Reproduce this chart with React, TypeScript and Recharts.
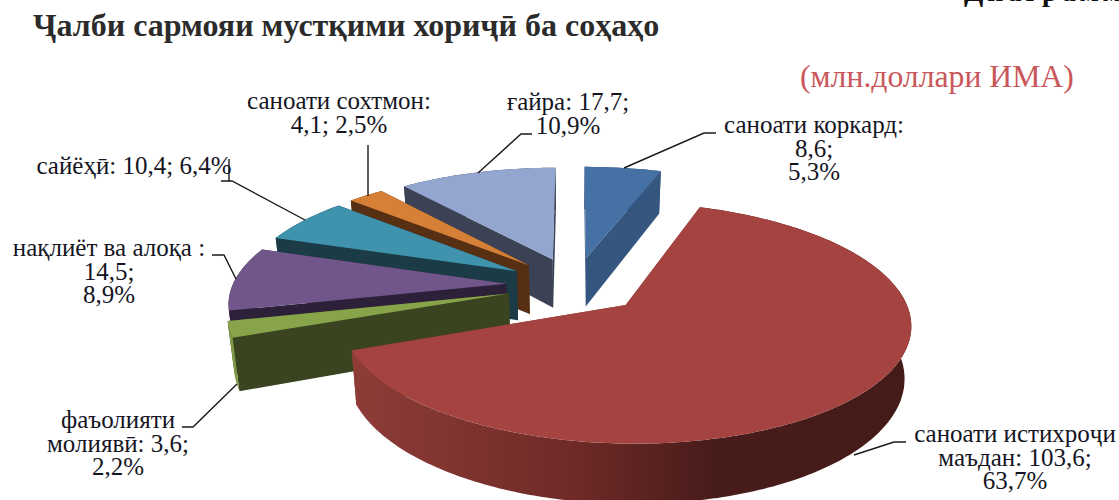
import { PieChart, Pie } from "recharts";

// listed counter-clockwise from 12 o'clock, so later slices paint over earlier ones
const categories = [
  "ғайра",
  "саноати сохтмон",
  "сайёҳӣ",
  "нақлиёт ва алоқа",
  "фаъолияти молиявӣ",
  "саноати истихроҷи маъдан",
  "саноати коркард",
];
const values = [17.7, 4.1, 10.4, 14.5, 3.6, 103.6, 8.6];
const shares = ["10,9%", "2,5%", "6,4%", "8,9%", "2,2%", "63,7%", "5,3%"];

const data = categories.map((name, i) => ({ name, value: values[i] }));

const topColors = ["#92a6cf", "#d67f37", "#3f93ad", "#71568c", "#88a44a", "#a4433f", "#4571a5"];
const wallColors = ["#3b4256", "#573014", "#1b3b47", "#2c2139", "#3a4420", "#8b3a36", "#34567f"];
const rimColors = ["#3b4256", "#573014", "#1b3b47", "#2c2139", "#7f9a48", "url(#redRim)", "#34567f"];

// {v} = value, {p} = share
const labelLines = [
  ["ғайра: {v};", "{p}"],
  ["саноати сохтмон:", "{v}; {p}"],
  ["сайёҳӣ: {v}; {p}"],
  ["нақлиёт ва алоқа :", "{v};", "{p}"],
  ["фаъолияти", "молиявӣ: {v};", "{p}"],
  ["саноати истихроҷи", "маъдан: {v};", "{p}"],
  ["саноати коркард:", "{v};", "{p}"],
];
const labelPos = [
  { x: 568, y: 110 },
  { x: 339, y: 109 },
  { x: 134, y: 174 },
  { x: 109, y: 256 },
  { x: 118, y: 428 },
  { x: 1015, y: 442 },
  { x: 814, y: 133 },
];
const leaders = [
  "478,173 521,134 532,134",
  "368,145 368,196",
  "305,220 232,181 221,181 M229,159 229,181",
  "212,255 224,255 236,279",
  "237,384 193,427 182,427",
  "854,455 894,442 906,442",
  "624,168 704,133 716,133",
];

const WIDTH = 1119;
const HEIGHT = 500;
const EXPLODE = 0.25; // share of the radius
const TILT = 0.409;
const PERSPECTIVE = 0.146;
const DEPTH = 50;
const BOTTOM_SHRINK = 0.98;
const RAD = Math.PI / 180;

type Pt = { x: number; y: number; w: number };

const toPath = (pts: { x: number; y: number }[]) =>
  "M" + pts.map((p) => `${p.x.toFixed(1)},${p.y.toFixed(1)}`).join("L") + "Z";

// Draws a slice on a tilted disc from the angles the Pie worked out
function Slice3D(props: any) {
  const { cx, cy, outerRadius, startAngle, endAngle, name } = props;
  const i = categories.indexOf(name);
  // recharts angles run counter-clockwise from 3 o'clock
  const from = 90 - Math.max(startAngle, endAngle);
  const to = 90 - Math.min(startAngle, endAngle);
  const mid = ((from + to) / 2) * RAD;
  const ox = EXPLODE * Math.sin(mid);
  const oy = -EXPLODE * Math.cos(mid);

  const project = (u: number, v: number): Pt => {
    const w = 1 - PERSPECTIVE * v;
    return { x: cx + (outerRadius * u) / w, y: cy + (outerRadius * TILT * v) / w, w };
  };
  const lower = (p: Pt): Pt => ({
    x: cx + (p.x - cx) * BOTTOM_SHRINK,
    y: p.y + DEPTH / p.w,
    w: p.w,
  });

  const arc: Pt[] = [];
  const steps = Math.max(2, Math.ceil(to - from));
  for (let s = 0; s <= steps; s++) {
    const t = (from + ((to - from) * s) / steps) * RAD;
    arc.push(project(ox + Math.sin(t), oy - Math.cos(t)));
  }
  const apex = project(ox, oy);
  const first = arc[0];
  const last = arc[arc.length - 1];

  const walls = [first, last]
    .sort((a, b) => a.y - b.y)
    .map((p) => [apex, p, lower(p), lower(apex)]);
  const rim = [...arc, ...arc.map(lower).reverse()];

  return (
    <g>
      <defs>
        <linearGradient id="redRim" gradientUnits="userSpaceOnUse" x1="350" y1="0" x2="910" y2="0">
          <stop offset="0" stopColor="#8f3c38" />
          <stop offset="0.4" stopColor="#6f2a27" />
          <stop offset="0.65" stopColor="#481c1a" />
          <stop offset="1" stopColor="#441b18" />
        </linearGradient>
      </defs>
      {walls.map((w, k) => (
        <path key={k} d={toPath(w)} fill={wallColors[i]} />
      ))}
      <path d={toPath(rim)} fill={rimColors[i]} />
      <path d={toPath([apex, ...arc])} fill={topColors[i]} />
    </g>
  );
}

function SliceLabel(props: any) {
  const i = props.index;
  const pos = labelPos[i];
  const text = labelLines[i].map((l) =>
    l.replace("{v}", String(values[i]).replace(".", ",")).replace("{p}", shares[i])
  );
  return (
    <g key={i}>
      {leaders[i].split(" M").map((seg, k) => (
        <polyline
          key={k}
          points={seg.replace("M", "")}
          fill="none"
          stroke="#1a1a1a"
          strokeWidth={1.4}
        />
      ))}
      <text
        x={pos.x}
        y={pos.y}
        textAnchor="middle"
        fontFamily="'Liberation Serif', serif"
        fontSize={25}
        fill="#15151f"
      >
        {text.map((line, k) => (
          <tspan key={k} x={pos.x} dy={k === 0 ? 0 : 23.5}>
            {line}
          </tspan>
        ))}
      </text>
    </g>
  );
}

export default function App() {
  return (
    <div
      style={{
        position: "absolute",
        left: 0,
        top: 0,
        width: WIDTH,
        height: HEIGHT,
        overflow: "hidden",
        background: "#fff",
      }}
    >
      <PieChart width={WIDTH} height={HEIGHT} margin={{ top: 0, right: 0, bottom: 0, left: 0 }}>
        <text
          x={33}
          y={36}
          fontFamily="'Liberation Serif', serif"
          fontWeight="bold"
          fontSize={32}
          fill="#2b2b2b"
        >
          Ҷалби сармояи мустқими хориҷӣ ба соҳаҳо
        </text>
        <text
          x={800}
          y={87}
          fontFamily="'Liberation Serif', serif"
          fontSize={31.7}
          fill="#c9575a"
        >
          (млн.доллари ИМА)
        </text>
        <text
          x={964}
          y={1}
          fontFamily="'Liberation Serif', serif"
          fontWeight="bold"
          fontSize={28}
          letterSpacing={4}
          fill="#111"
        >
          Диаграмма
        </text>
        <Pie
          data={data}
          dataKey="value"
          nameKey="name"
          cx={575}
          cy={285}
          outerRadius={274}
          startAngle={90}
          endAngle={450}
          stroke="none"
          shape={Slice3D}
          label={SliceLabel}
          labelLine={false}
          isAnimationActive={false}
        />
      </PieChart>
    </div>
  );
}
